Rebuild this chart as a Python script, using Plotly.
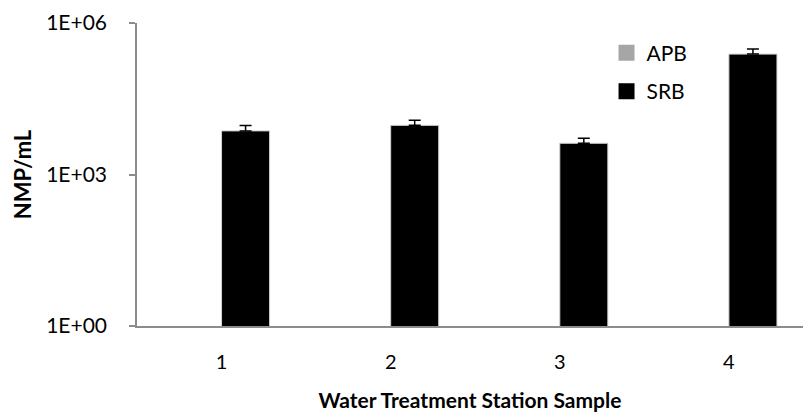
import plotly.graph_objects as go

categories = ["1", "2", "3", "4"]
apb_values = [None, None, None, None]
srb_values = [7300, 9400, 4150, 242000]
srb_errors = [2000, 2400, 1050, 63000]
y_tick_vals = [1, 1000, 1000000]
y_tick_text = ["1E+00", "1E+03", "1E+06"]
legend_names = ["APB", "SRB"]
legend_colors = ["#a6a6a6", "#000000"]

FONT = "Lato"

fig = go.Figure()
fig.add_trace(go.Bar(
    x=categories, y=apb_values, name="APB",
    marker=dict(color=legend_colors[0], line=dict(color="#d9d9d9", width=1)),
    showlegend=False,
))
fig.add_trace(go.Bar(
    x=categories, y=srb_values, name="SRB",
    marker=dict(color=legend_colors[1], line=dict(color="#d0d0d0", width=1)),
    error_y=dict(type="data", array=srb_errors, symmetric=False, arrayminus=[0]*4,
                 color="#000000", thickness=1.5, width=6),
    showlegend=False,
))
# legend-only entries with larger square markers
for i, (nm, col) in enumerate(zip(legend_names, legend_colors)):
    fig.add_trace(go.Scatter(
        x=[None], y=[None], mode="markers", name=nm,
        marker=dict(symbol="square", size=14, color=col, line=dict(color=col, width=2)),
        legendgroup=nm, showlegend=True,
    ))

fig.update_layout(
    width=804, height=416,
    margin=dict(l=137, r=1, t=23, b=90),
    paper_bgcolor="white", plot_bgcolor="white",
    barmode="group", bargap=0.432, bargroupgap=0,
    font=dict(family=FONT, color="#000000", size=20),
    legend=dict(x=0.705, y=0.968, xanchor="left", yanchor="top",
                font=dict(size=21, family=FONT), tracegroupgap=8,
                itemwidth=30, bgcolor="rgba(0,0,0,0)"),
    showlegend=True,
)
fig.update_xaxes(
    type="category", range=[-0.5, 3.438],
    showline=True, linecolor="#8c8c8c", linewidth=1.5,
    ticks="", showgrid=False, tickfont=dict(size=20, family=FONT),
    ticklabelstandoff=17,
    title=dict(text="<b>Water Treatment Station Sample</b>", font=dict(size=21, family=FONT), standoff=22),
)
fig.update_yaxes(
    type="log", range=[0, 6],
    showline=True, linecolor="#8c8c8c", linewidth=1.5,
    ticks="outside", ticklen=6, tickcolor="#8c8c8c", tickwidth=1.5,
    tickvals=y_tick_vals, ticktext=y_tick_text,
    showgrid=False, zeroline=False, tickfont=dict(size=21, family=FONT),
    ticklabelstandoff=18,
    title=dict(text="<b>NMP/mL</b>", font=dict(size=22, family=FONT), standoff=8),
)

fig.write_html("out.html")
